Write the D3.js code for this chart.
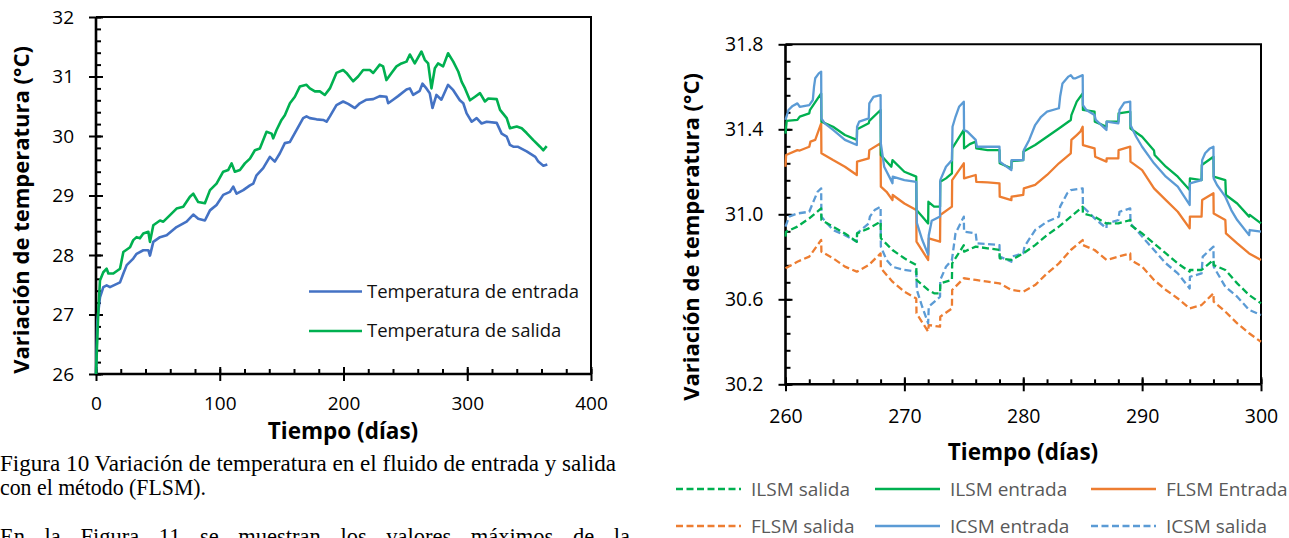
<!DOCTYPE html>
<html><head><meta charset="utf-8">
<script src="https://cdn.jsdelivr.net/npm/d3@7"></script>
<style>
html,body{margin:0;padding:0;background:#fff;}
svg{display:block;}
text{font-family:"Open Sans","Noto Sans",sans-serif;}
</style></head>
<body>
<svg id="c" width="1289" height="538"></svg>
<script>
// ---------- DATA: Figura 10 (FLSM, 0-365 días) ----------
const leftXTicks = [0, 100, 200, 300, 400];
const leftYTicks = [26, 27, 28, 29, 30, 31, 32];
const tempEntrada = [[0,26.00],[1.08,26.90],[3.23,27.29],[5.92,27.46],[8.61,27.49],[11.3,27.46],[19.4,27.54],[22.1,27.69],[24.8,27.83],[30.1,27.94],[32.8,28.02],[38.2,28.08],[42.3,28.08],[43.6,27.99],[46.3,28.22],[51.7,28.30],[57.1,28.33],[65.1,28.47],[73.2,28.56],[78.6,28.68],[82.6,28.61],[88.0,28.58],[92.1,28.75],[97.4,28.84],[102.8,29.01],[108.2,29.06],[110.9,29.15],[113.6,29.03],[119.0,29.09],[124.4,29.17],[127.1,29.20],[129.7,29.34],[135.1,29.46],[140.5,29.65],[144.5,29.57],[148.6,29.71],[152.6,29.88],[156.7,29.90],[162.0,30.10],[167.4,30.30],[170.1,30.33],[172.8,30.30],[178.2,30.28],[183.6,30.27],[186.3,30.24],[189.0,30.33],[194.3,30.52],[199.7,30.58],[203.8,30.54],[209.2,30.47],[213.2,30.55],[218.6,30.61],[224.0,30.62],[229.3,30.67],[234.7,30.66],[236.1,30.55],[240.1,30.61],[244.1,30.67],[250.9,30.78],[253.6,30.80],[256.3,30.69],[261.6,30.76],[263.8,30.88],[267.0,30.80],[269.7,30.72],[271.9,30.47],[275.1,30.69],[279.1,30.61],[284.5,30.86],[288.7,30.77],[294.0,30.60],[296.8,30.55],[299.5,30.38],[303.6,30.24],[307.6,30.30],[311.6,30.21],[315.7,30.24],[323.8,30.22],[327.8,30.04],[331.9,29.99],[334.5,29.85],[337.2,29.82],[340.7,29.82],[348.0,29.74],[355.0,29.65],[357.4,29.57],[361.5,29.50],[364.7,29.52]];
const tempSalida = [[0,26.00],[1.9,27.07],[3.2,27.57],[5.9,27.71],[8.6,27.77],[10.0,27.69],[14.0,27.69],[19.4,27.77],[22.1,28.05],[27.5,28.13],[30.1,28.25],[32.8,28.30],[35.5,28.28],[38.2,28.36],[42.3,28.39],[43.6,28.22],[46.3,28.50],[51.7,28.58],[54.4,28.56],[59.8,28.67],[65.1,28.78],[70.5,28.81],[75.9,28.98],[78.6,29.03],[82.6,28.89],[88.0,28.87],[92.1,29.09],[97.4,29.20],[102.8,29.40],[106.9,29.43],[109.6,29.54],[112.2,29.40],[116.3,29.43],[120.3,29.54],[124.4,29.62],[128.4,29.76],[132.4,29.79],[137.8,30.07],[141.9,30.04],[143.2,29.96],[145.9,30.10],[149.9,30.27],[152.6,30.35],[156.7,30.55],[160.7,30.66],[164.7,30.83],[170.1,30.86],[172.8,30.80],[176.9,30.75],[180.9,30.75],[184.9,30.69],[189.0,30.80],[194.3,31.06],[199.7,31.11],[202.4,31.06],[207.8,30.92],[211.8,31.00],[215.9,31.11],[221.3,31.11],[224.0,31.06],[229.3,31.20],[232.0,31.17],[234.7,30.94],[238.8,31.06],[242.8,31.17],[246.8,31.22],[250.9,31.25],[253.6,31.37],[257.6,31.22],[263.0,31.42],[265.7,31.28],[268.4,31.22],[271.1,30.80],[273.8,31.14],[276.4,31.22],[280.5,31.17],[284.5,31.39],[288.7,31.25],[292.8,31.08],[295.5,30.91],[298.2,30.80],[302.2,30.60],[306.3,30.66],[310.3,30.72],[314.3,30.58],[317.0,30.63],[323.8,30.62],[326.5,30.44],[331.9,30.30],[334.5,30.13],[340.0,30.16],[344.0,30.13],[348.0,30.05],[353.4,29.93],[358.8,29.82],[361.5,29.76],[364.2,29.83]];

// ---------- DATA: días 260-300 ----------
const rightXTicks = [260, 270, 280, 290, 300];
const rightYTicks = [30.2, 30.6, 31.0, 31.4, 31.8];
const ilsmEntrada = [[260,31.38],[260.1,31.44],[261,31.444],[261.2,31.46],[262,31.475],[262.05,31.49],[263,31.569],[263.02,31.436],[264,31.412],[265,31.373],[266,31.35],[266.02,31.40],[267,31.428],[267.05,31.44],[268,31.491],[268.02,31.279],[268.9,31.224],[269,31.255],[270,31.20],[271,31.177],[271.02,31.02],[271.5,30.99],[272,30.957],[272.02,31.059],[272.5,31.036],[273,31.036],[273.02,31.153],[273.5,31.169],[274,31.193],[274.02,31.31],[275,31.397],[275.02,31.31],[275.5,31.33],[276,31.342],[276.05,31.31],[277,31.302],[278,31.302],[278.02,31.24],[279,31.216],[279.02,31.25],[280,31.255],[280.02,31.295],[281,31.326],[282,31.365],[283,31.404],[284,31.444],[284.05,31.467],[284.5,31.53],[285,31.569],[285.02,31.491],[286,31.483],[286.02,31.436],[287,31.412],[287.02,31.436],[288,31.436],[288.02,31.475],[289,31.483],[289.02,31.404],[290,31.365],[291,31.30],[291.05,31.279],[292,31.224],[293,31.177],[294,31.114],[294.02,31.169],[295,31.161],[295.02,31.232],[296,31.271],[296.02,31.177],[297,31.161],[297.05,31.091],[298,31.051],[299,30.989],[299.05,30.997],[300,30.957]];
const icsmEntrada = [[260,31.444],[260.25,31.491],[260.6,31.51],[261,31.522],[261.2,31.506],[262,31.514],[262.3,31.538],[262.4,31.601],[262.5,31.640],[262.8,31.663],[263,31.671],[263.02,31.451],[263.3,31.428],[264,31.397],[265,31.35],[266,31.326],[266.02,31.412],[266.2,31.436],[267,31.451],[267.05,31.522],[267.4,31.553],[268,31.561],[268.02,31.334],[268.3,31.224],[268.8,31.169],[269,31.146],[269.02,31.177],[270,31.161],[271,31.153],[271.05,30.96],[271.5,30.88],[272,30.81],[272.05,30.90],[272.3,30.97],[273,30.99],[273.02,31.161],[273.5,31.224],[274,31.255],[274.05,31.412],[274.3,31.459],[274.6,31.506],[275,31.530],[275.02,31.397],[275.3,31.389],[276,31.35],[276.1,31.318],[277,31.318],[278,31.318],[278.02,31.248],[279,31.208],[279.02,31.255],[280,31.255],[280.05,31.302],[280.5,31.35],[281,31.42],[281.5,31.459],[282,31.483],[283,31.499],[283.1,31.553],[283.3,31.616],[283.8,31.648],[284,31.655],[284.2,31.640],[284.4,31.640],[285,31.655],[285.02,31.514],[285.3,31.491],[286,31.467],[286.1,31.444],[287,31.397],[287.02,31.436],[288,31.428],[288.1,31.491],[288.5,31.525],[289,31.530],[289.02,31.420],[289.5,31.365],[290,31.318],[291,31.240],[292,31.177],[293,31.130],[294,31.044],[294.02,31.146],[295,31.161],[295.05,31.255],[295.3,31.287],[295.7,31.310],[296,31.318],[296.02,31.169],[296.3,31.138],[297,31.083],[297.5,31.020],[298,30.973],[299,30.902],[299.05,30.926],[300,30.918]];
const flsmEntrada = [[260,31.224],[260.05,31.279],[261,31.302],[261.2,31.30],[262,31.318],[262.1,31.342],[262.5,31.35],[263,31.428],[263.02,31.287],[264,31.255],[265,31.224],[266,31.185],[266.02,31.248],[267,31.263],[267.05,31.302],[268,31.334],[268.02,31.130],[268.5,31.106],[269,31.067],[269.02,31.091],[270,31.051],[271,31.020],[271.02,30.871],[272,30.785],[272.05,30.887],[273,30.871],[273.02,30.997],[274,31.036],[274.02,31.161],[275,31.240],[275.02,31.169],[276,31.185],[276.05,31.153],[277,31.150],[278,31.146],[278.02,31.083],[279,31.067],[279.02,31.083],[280,31.091],[280.05,31.122],[281,31.138],[282,31.185],[283,31.240],[284,31.287],[284.05,31.350],[284.5,31.373],[284.8,31.389],[285,31.412],[285.02,31.326],[286,31.310],[286.05,31.271],[287,31.248],[287.02,31.263],[288,31.263],[288.02,31.302],[289,31.318],[289.02,31.248],[290,31.208],[291,31.122],[292,31.067],[293,31.012],[294,30.934],[294.02,30.989],[295,30.989],[295.05,31.067],[296,31.099],[296.02,31.004],[297,30.973],[297.05,30.910],[298,30.863],[299,30.816],[300,30.785]];
const ilsmSalida = [[260,30.895],[260.05,30.918],[261,30.942],[262,30.981],[263,31.028],[263.02,30.973],[264,30.942],[265,30.910],[266,30.871],[266.02,30.910],[267,30.934],[268,30.965],[268.02,30.887],[269,30.832],[270,30.793],[271,30.761],[271.02,30.691],[272,30.644],[272.5,30.628],[273,30.628],[273.02,30.675],[274,30.691],[274.02,30.769],[275,30.855],[275.02,30.824],[276,30.848],[277,30.840],[278,30.832],[278.02,30.793],[279,30.785],[280,30.816],[281,30.855],[282,30.902],[283,30.942],[284,30.989],[285,31.036],[285.02,31.004],[286,30.989],[287,30.957],[288,30.957],[289,30.973],[289.02,30.950],[290,30.910],[291,30.863],[292,30.816],[293,30.769],[294,30.730],[294.02,30.738],[295,30.738],[296,30.785],[296.02,30.761],[297,30.738],[298,30.675],[299,30.620],[300,30.581]];
const icsmSalida = [[260,30.942],[260.3,30.989],[261,31.004],[262,31.012],[262.4,31.067],[262.7,31.106],[263,31.122],[263.02,30.989],[263.5,30.957],[264,30.926],[265,30.902],[266,30.871],[266.02,30.910],[267,30.957],[267.1,30.989],[267.5,31.020],[268,31.036],[268.02,30.848],[268.5,30.785],[269,30.753],[270,30.738],[271,30.730],[271.05,30.644],[271.5,30.565],[272,30.487],[272.05,30.565],[273,30.612],[273.02,30.691],[273.5,30.753],[274,30.785],[274.3,30.910],[275,30.989],[275.02,30.918],[276,30.910],[276.1,30.863],[277,30.860],[278,30.855],[278.02,30.801],[279,30.777],[279.02,30.801],[280,30.816],[280.1,30.848],[281,30.926],[282,30.965],[283,30.989],[283.1,31.036],[283.7,31.099],[284,31.114],[285,31.122],[285.02,31.036],[286,30.981],[287,30.934],[287.02,30.957],[288,30.973],[288.1,31.012],[289,31.028],[289.02,30.957],[290,30.895],[291,30.832],[292,30.769],[293,30.722],[294,30.651],[294.02,30.706],[295,30.722],[295.1,30.801],[296,30.848],[296.02,30.753],[297,30.659],[298,30.612],[299,30.550],[300,30.526]];
const flsmSalida = [[260,30.746],[261,30.777],[262,30.801],[263,30.879],[263.02,30.824],[264,30.793],[265,30.754],[266,30.730],[267,30.761],[268,30.816],[268.02,30.746],[269,30.683],[270,30.636],[271,30.604],[271.02,30.534],[272,30.448],[272.05,30.479],[273,30.471],[273.02,30.518],[274,30.557],[274.02,30.644],[275,30.699],[276,30.691],[277,30.683],[278,30.675],[279,30.644],[280,30.636],[281,30.667],[282,30.722],[283,30.769],[284,30.832],[285,30.879],[285.02,30.855],[286,30.832],[287,30.785],[288,30.801],[289,30.816],[289.02,30.785],[290,30.754],[291,30.691],[292,30.644],[293,30.604],[294,30.557],[295,30.573],[296,30.628],[296.02,30.589],[297,30.542],[298,30.487],[299,30.440],[300,30.400]];

const leftLegend = ["Temperatura de entrada", "Temperatura de salida"];
const rightLegendRow1 = ["ILSM salida", "ILSM entrada", "FLSM Entrada"];
const rightLegendRow2 = ["FLSM salida", "ICSM entrada", "ICSM salida"];
const captionLines = ["Figura 10 Variación de temperatura en el fluido de entrada y salida", "con el método (FLSM).", "En la Figura 11 se muestran los valores máximos de la"];

// ---------- DRAWING ----------
const svg = d3.select("#c");
const BLUE = "#4472C4", GREEN = "#00B050", ORANGE = "#ED7D31", LBLUE = "#5B9BD5";

function drawAxes(x, y, xMajor, xMinor, yMajor, yMinor, fmtY, fs, xLabOff) {
  const [x0, x1] = x.range(), [y0, y1] = y.range();
  const g = svg.append("g");
  g.append("path").attr("d", `M${x0},${y1}H${x1}V${y0}`).attr("fill", "none").attr("stroke", "#000").attr("stroke-width", 2);
  const gxm = g.append("g").attr("transform", `translate(0,${y0})`).call(d3.axisTop(x).tickValues(xMinor).tickSize(5).tickFormat(""));
  const gym = g.append("g").attr("transform", `translate(${x0},0)`).call(d3.axisRight(y).tickValues(yMinor).tickSize(5).tickFormat(""));
  const gxi = g.append("g").attr("transform", `translate(0,${y0})`).call(d3.axisTop(x).tickValues(xMajor).tickSize(7).tickFormat(""));
  const gyi = g.append("g").attr("transform", `translate(${x0},0)`).call(d3.axisRight(y).tickValues(yMajor).tickSize(7).tickFormat(""));
  const gx = g.append("g").attr("transform", `translate(0,${y0})`).call(d3.axisBottom(x).tickValues(xMajor).tickSize(7).tickPadding(xLabOff));
  const gy = g.append("g").attr("transform", `translate(${x0},0)`).call(d3.axisLeft(y).tickValues(yMajor).tickSize(7).tickPadding(15).tickFormat(fmtY));
  [gxm, gym, gxi, gyi, gx, gy].forEach(a => {
    a.select(".domain").remove();
    a.selectAll("line").attr("stroke", "#000").attr("stroke-width", 2);
    a.selectAll("text").attr("font-family", '"Open Sans",sans-serif').attr("font-size", fs).attr("fill", "#000");
  });
  g.append("path").attr("d", `M${x0},${y1}V${y0}H${x1}`).attr("fill", "none").attr("stroke", "#000").attr("stroke-width", 2.6);
}

function range(a, b, s) { const r = []; for (let v = a; v <= b + 1e-9; v += s) r.push(+v.toFixed(3)); return r; }

// ----- Left chart -----
const xL = d3.scaleLinear().domain([0, 400]).range([96, 591]);
const yL = d3.scaleLinear().domain([26, 32]).range([374, 17]);
drawAxes(xL, yL, leftXTicks, range(0, 400, 20), leftYTicks, range(26, 32, 0.2), d3.format("d"), 19, 16);

const lineL = d3.line().x(d => xL(d[0])).y(d => yL(d[1]));
svg.append("path").datum(tempEntrada).attr("d", lineL).attr("fill", "none").attr("stroke", BLUE).attr("stroke-width", 2.6).attr("stroke-linejoin", "round");
svg.append("path").datum(tempSalida).attr("d", lineL).attr("fill", "none").attr("stroke", GREEN).attr("stroke-width", 2.6).attr("stroke-linejoin", "round");

[BLUE, GREEN].forEach((c, i) => {
  const yy = 291.5 + i * 39.5;
  svg.append("line").attr("x1", 309).attr("x2", 362).attr("y1", yy).attr("y2", yy).attr("stroke", c).attr("stroke-width", 2.6);
  svg.append("text").attr("x", 367).attr("y", yy).attr("dy", "0.35em").attr("font-size", 18.5).attr("fill", "#111").text(leftLegend[i]);
});

svg.append("text").attr("x", 343).attr("y", 439).attr("text-anchor", "middle").attr("font-weight", "bold").attr("font-size", 22.5).text("Tiempo (días)");
svg.append("text").attr("transform", "translate(29,210) rotate(-90)").attr("text-anchor", "middle").attr("font-weight", "bold").attr("font-size", 22).text("Variación de temperatura (°C)");

// caption
const serif = '"Liberation Serif","Times New Roman",serif';
svg.append("text").attr("x", 0).attr("y", 471).style("font-family", serif).attr("font-size", 22.5)
  .attr("textLength", 616).attr("lengthAdjust", "spacingAndGlyphs").text(captionLines[0]);
svg.append("text").attr("x", 0).attr("y", 495).style("font-family", serif).attr("font-size", 22.5)
  .attr("textLength", 206).attr("lengthAdjust", "spacingAndGlyphs").text(captionLines[1]);
const l3 = svg.append("text").attr("x", 0).attr("y", 544).style("font-family", serif).attr("font-size", 22.5).text(captionLines[2]);
{
  const w = l3.node().getComputedTextLength();
  const nSp = captionLines[2].split(" ").length - 1;
  l3.attr("word-spacing", Math.max(0, (630 - w) / nSp));
}

// ----- Right chart -----
const xR = d3.scaleLinear().domain([260, 300]).range([785.5, 1261]);
const yR = d3.scaleLinear().domain([30.2, 31.8]).range([384.3, 44.3]);
drawAxes(xR, yR, rightXTicks, range(260, 300, 2), rightYTicks, range(30.2, 31.8, 0.08), d3.format(".1f"), 19.5, 18);

const lineR = d3.line().x(d => xR(d[0])).y(d => yR(d[1]));
const seriesR = [
  {data: flsmSalida, c: ORANGE, dash: true},
  {data: icsmSalida, c: LBLUE, dash: true},
  {data: ilsmSalida, c: GREEN, dash: true},
  {data: flsmEntrada, c: ORANGE, dash: false},
  {data: ilsmEntrada, c: GREEN, dash: false},
  {data: icsmEntrada, c: LBLUE, dash: false}
];
seriesR.forEach(s => {
  svg.append("path").datum(s.data).attr("d", lineR).attr("fill", "none").attr("stroke", s.c)
    .attr("stroke-width", 2.3).attr("stroke-linejoin", "round")
    .attr("stroke-dasharray", s.dash ? "7,3.5" : null);
});

svg.append("text").attr("x", 1023).attr("y", 460).attr("text-anchor", "middle").attr("font-weight", "bold").attr("font-size", 22.5).text("Tiempo (días)");
svg.append("text").attr("transform", "translate(699,237) rotate(-90)").attr("text-anchor", "middle").attr("font-weight", "bold").attr("font-size", 22).text("Variación de temperatura (°C)");

const legR = [
  [rightLegendRow1[0], GREEN, true], [rightLegendRow1[1], GREEN, false], [rightLegendRow1[2], ORANGE, false],
  [rightLegendRow2[0], ORANGE, true], [rightLegendRow2[1], LBLUE, false], [rightLegendRow2[2], LBLUE, true]
];
const legX = [676, 875, 1091];
legR.forEach((e, i) => {
  const col = i % 3, row = Math.floor(i / 3);
  const yy = 489 + row * 37, xx = legX[col];
  svg.append("line").attr("x1", xx).attr("x2", xx + 65).attr("y1", yy).attr("y2", yy).attr("stroke", e[1]).attr("stroke-width", 2.3)
    .attr("stroke-dasharray", e[2] ? "7,3.5" : null);
  svg.append("text").attr("x", xx + 75).attr("y", yy).attr("dy", "0.35em").attr("font-size", 19).attr("fill", "#595959").text(e[0]);
});
</script>
</body></html>
